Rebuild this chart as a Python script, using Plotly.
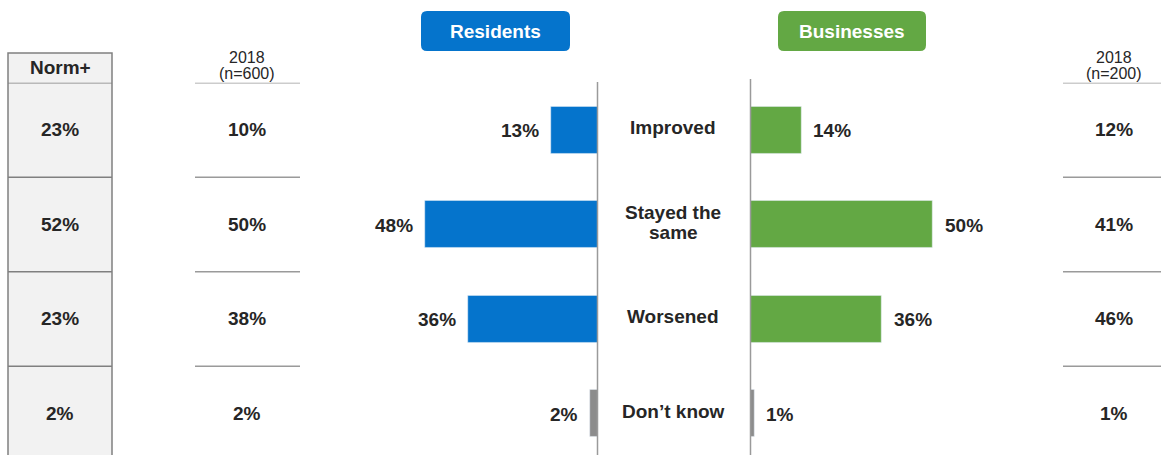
import plotly.graph_objects as go

W, H = 1161, 455

categories = ["Improved", "Stayed the<br>same", "Worsened", "Don\u2019t know"]
residents = [13, 48, 36, 2]
businesses = [14, 50, 36, 1]
norm_plus = ["23%", "52%", "23%", "2%"]
res_2018 = ["10%", "50%", "38%", "2%"]
bus_2018 = ["12%", "41%", "46%", "1%"]
res_header = ["2018", "(n=600)"]
bus_header = ["2018", "(n=200)"]

BLUE = "#0574CC"
GREEN = "#63A844"
GREY = "#8C8C8C"
TXT = "#262626"
FONT = "Arial, Liberation Sans, sans-serif"
FS = 19

def X(px):
    return px / W

def Y(py):
    return 1 - py / H

rows = list(range(len(categories)))
res_colors = [BLUE] * 3 + [GREY]
bus_colors = [GREEN] * 3 + [GREY]

fig = go.Figure()
fig.add_trace(go.Bar(y=rows, x=residents, orientation="h", marker_color=res_colors,
                     width=0.5, xaxis="x", yaxis="y", showlegend=False, hoverinfo="skip"))
fig.add_trace(go.Bar(y=rows, x=businesses, orientation="h", marker_color=bus_colors,
                     width=0.5, xaxis="x2", yaxis="y", showlegend=False, hoverinfo="skip"))

ann = []
bold = dict(family=FONT, size=FS, color=TXT, weight="bold")

def A(**kw):
    d = dict(showarrow=False, xanchor="center", yanchor="middle")
    d.update(kw)
    ann.append(d)

for i, v in enumerate(residents):
    A(x=v, y=i, xref="x", yref="y", text=f"{v}%", xanchor="right", xshift=-10, yshift=-1, font=bold)
for i, v in enumerate(businesses):
    A(x=v, y=i, xref="x2", yref="y", text=f"{v}%", xanchor="left", xshift=10, yshift=-1, font=bold)
for i, c in enumerate(categories):
    parts = c.split("<br>")
    n = len(parts)
    for k, p in enumerate(parts):
        A(x=X(673), y=i, xref="paper", yref="y", text=p,
          yshift=-(k - (n - 1) / 2) * 20 + 2, font=bold)
for i in rows:
    A(x=X(60), y=i, xref="paper", yref="y", text=norm_plus[i], font=bold)
    A(x=X(247), y=i, xref="paper", yref="y", text=res_2018[i], font=bold)
    A(x=X(1114), y=i, xref="paper", yref="y", text=bus_2018[i], font=bold)

A(x=X(60), y=Y(67), xref="paper", yref="paper", text="Norm+", font=bold)
for xc, hdr in [(247, res_header), (1114, bus_header)]:
    for k, t in enumerate(hdr):
        A(x=X(xc), y=Y(58 + 15 * k), xref="paper", yref="paper", text=t,
          font=dict(family=FONT, size=16, color=TXT))
for xc, t in [(495.5, "Residents"), (852, "Businesses")]:
    A(x=X(xc), y=Y(31.5), xref="paper", yref="paper", text=t,
      font=dict(family=FONT, size=FS, color="white", weight="bold"))

shapes = []
LINE = "#9a9a9a"

def rrect(x0, y0, x1, y1, r, color):
    rx, ry = r / W, r / H
    a0, b0, a1, b1 = X(x0), Y(y0), X(x1), Y(y1)
    p = (f"M {a0+rx},{b0} L {a1-rx},{b0} Q {a1},{b0} {a1},{b0-ry} "
         f"L {a1},{b1+ry} Q {a1},{b1} {a1-rx},{b1} L {a0+rx},{b1} "
         f"Q {a0},{b1} {a0},{b1+ry} L {a0},{b0-ry} Q {a0},{b0} {a0+rx},{b0} Z")
    return dict(type="path", path=p, xref="paper", yref="paper", fillcolor=color,
                line=dict(width=0), layer="below")

shapes.append(rrect(421, 11, 570, 51, 6, BLUE))
shapes.append(rrect(778, 11, 926, 51, 6, GREEN))

# Norm+ box
shapes.append(dict(type="rect", xref="paper", yref="paper", x0=X(8), x1=X(112), y0=Y(53), y1=Y(470),
                   fillcolor="#f2f2f2", line=dict(color="#808080", width=1.5), layer="below"))
for b in [-0.5, 0.5, 1.5, 2.5]:
    shapes.append(dict(type="line", xref="paper", yref="y", x0=X(8), x1=X(112), y0=b, y1=b,
                       line=dict(color="#808080", width=1.5), layer="below"))
    shapes.append(dict(type="line", xref="paper", yref="y", x0=X(195), x1=X(300), y0=b, y1=b,
                       line=dict(color=LINE, width=1.5)))
    shapes.append(dict(type="line", xref="paper", yref="y", x0=X(1063), x1=X(1161), y0=b, y1=b,
                       line=dict(color=LINE, width=1.5)))

shapes.append(dict(type="line", xref="paper", yref="paper", x0=X(597.5), x1=X(597.5), y0=Y(82), y1=0,
                   line=dict(color=LINE, width=1.5)))
shapes.append(dict(type="line", xref="paper", yref="paper", x0=X(750.5), x1=X(750.5), y0=Y(79), y1=0,
                   line=dict(color=LINE, width=1.5)))

top_px = 82.7
spacing = 94.5
ydom_top = Y(top_px)
units = (H - top_px) / spacing

res_left, res_right = 380, 597.5
bus_left, bus_right = 750.5, 1000
scale_r = 3.6
scale_b = 3.64

fig.update_layout(
    width=W, height=H, margin=dict(l=0, r=0, t=0, b=0),
    paper_bgcolor="white", plot_bgcolor="rgba(0,0,0,0)",
    xaxis=dict(domain=[X(res_left), X(res_right)], range=[(res_right - res_left) / scale_r, 0],
               visible=False, fixedrange=True),
    xaxis2=dict(domain=[X(bus_left), X(bus_right)], range=[0, (bus_right - bus_left) / scale_b],
                visible=False, fixedrange=True, anchor="y"),
    yaxis=dict(domain=[0, ydom_top], range=[-0.5 + units, -0.5], visible=False, fixedrange=True),
    annotations=ann, shapes=shapes, bargap=0,
)

fig.write_html("out.html")
